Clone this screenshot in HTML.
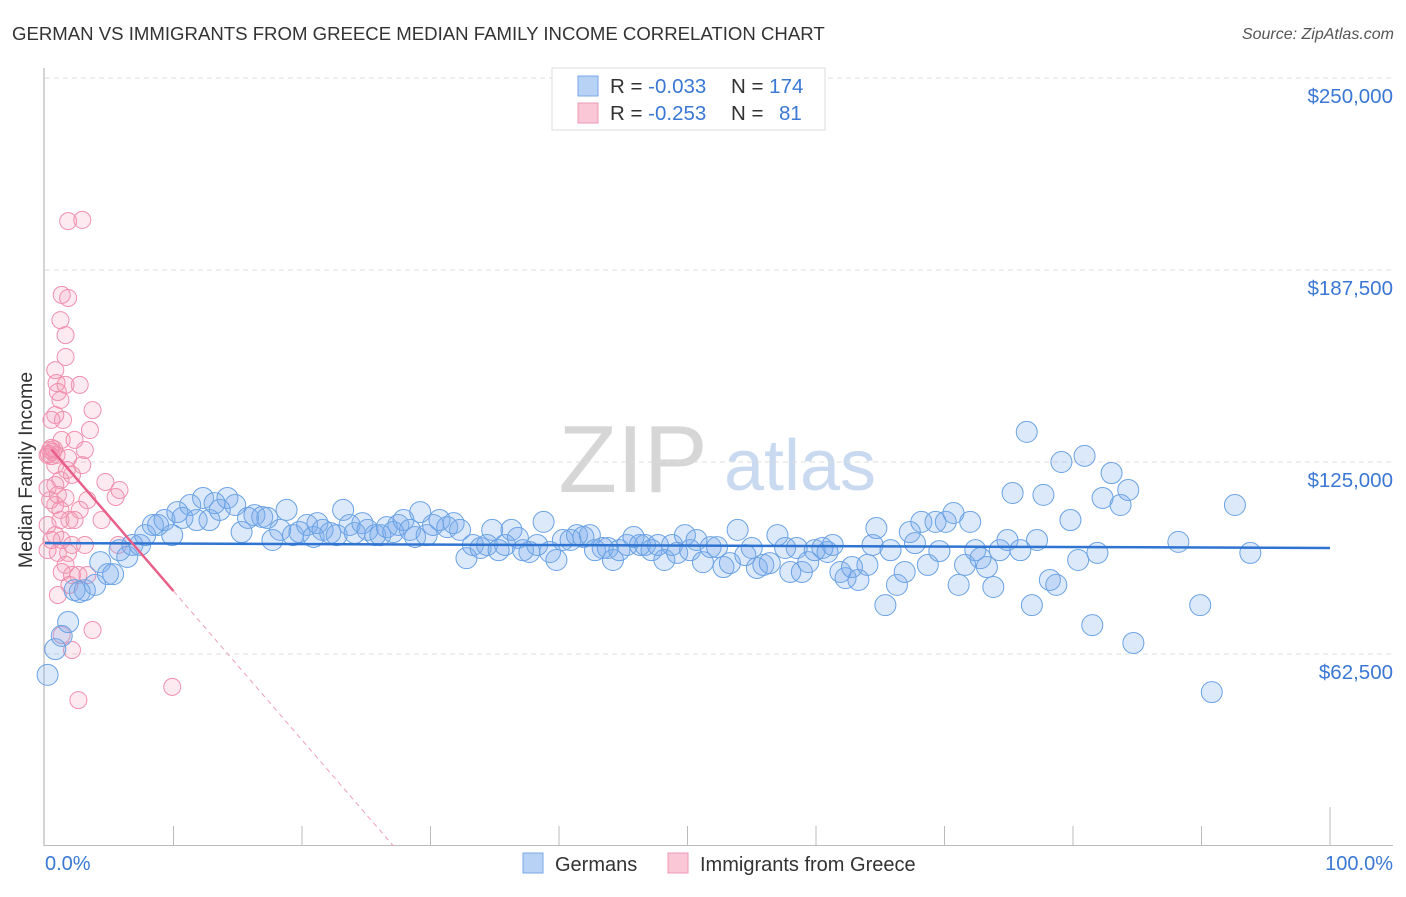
<!DOCTYPE html>
<html><head><meta charset="utf-8"><style>
body{margin:0;background:#fff;width:1406px;height:892px;overflow:hidden;font-family:"Liberation Sans",sans-serif;}
svg text{font-family:"Liberation Sans",sans-serif;}
</style></head><body>
<svg id="chart" width="1406" height="892" xmlns="http://www.w3.org/2000/svg">
<text x="12" y="40" font-size="18.6" fill="#333">GERMAN VS IMMIGRANTS FROM GREECE MEDIAN FAMILY INCOME CORRELATION CHART</text>
<text x="1394" y="39" font-size="16" fill="#555" font-style="italic" text-anchor="end">Source: ZipAtlas.com</text>
<g>
<text x="633" y="492" font-size="96" fill="#d6d6d6" font-family="Liberation Serif" text-anchor="middle">ZIP</text>
<text x="800" y="490" font-size="72" fill="#c9daf0" text-anchor="middle">atlas</text>
</g>
<g id="grid"></g>
<g id="axes"></g>
<g id="pts"></g>
<g id="trend"></g>
<g>
<rect x="552" y="68" width="273" height="62" fill="#fff" stroke="#ddd"/>
<rect x="578" y="76" width="20" height="20" fill="#b7d2f5" stroke="#79a8e6"/>
<rect x="578" y="103" width="20" height="20" fill="#f9c7d6" stroke="#ee9ab4"/>
<text x="610" y="93" font-size="20.5" fill="#333">R = <tspan fill="#3a78d4">-0.033</tspan><tspan x="731">N = </tspan><tspan fill="#3a78d4">174</tspan></text>
<text x="610" y="120" font-size="20.5" fill="#333">R = <tspan fill="#3a78d4"> -0.253</tspan><tspan x="731">N = </tspan><tspan fill="#3a78d4" x="779">81</tspan></text>
</g>
<g>
<rect x="523" y="853" width="20" height="20" fill="#b7d2f5" stroke="#79a8e6"/>
<text x="555" y="871" font-size="20" fill="#333">Germans</text>
<rect x="668" y="853" width="20" height="20" fill="#f9c7d6" stroke="#ee9ab4"/>
<text x="700" y="871" font-size="20" fill="#333">Immigrants from Greece</text>
</g>
<text x="18" y="456" font-size="19.5" fill="#333" transform="rotate(-90 32 456)" text-anchor="middle">Median Family Income</text>
</svg>
<script>
const yTicks=[62500,125000,187500,250000];
const yTickLabels=["$62,500","$125,000","$187,500","$250,000"];
const xTickLabels=["0.0%","100.0%"];
const germansX=[0.2,0.8,1.3,1.8,2.3,3.1,3.9,2.7,4.3,4.9,5.3,5.8,6.4,6.8,7.4,7.8,8.4,8.8,9.3,9.9,10.3,10.7,11.3,11.8,12.3,12.8,13.2,13.6,14.2,14.8,15.3,15.8,16.3,16.9,17.3,17.7,18.3,18.8,19.3,19.8,20.4,20.9,21.2,21.6,22.2,22.7,23.2,23.7,24.1,24.7,25.1,25.7,26.1,26.6,27.1,27.5,27.9,28.4,28.8,29.2,29.7,30.2,30.7,31.3,31.8,32.3,32.8,33.3,33.9,34.4,34.8,35.3,35.8,36.3,36.8,37.2,37.7,38.3,38.8,39.3,39.8,40.3,40.9,41.4,41.9,42.4,42.8,43.4,43.8,44.2,44.7,45.3,45.8,46.3,46.7,47.2,47.7,48.2,48.8,49.2,49.8,50.2,50.7,51.2,51.8,52.3,52.8,53.3,53.9,54.5,55.0,55.4,55.9,56.4,57.0,57.6,58.0,58.5,58.9,59.4,59.9,60.5,60.9,61.3,61.9,62.3,62.8,63.3,64.0,64.4,64.7,65.4,65.8,66.3,66.9,67.3,67.7,68.2,68.7,69.3,69.6,70.1,70.7,71.1,71.6,72.0,72.4,72.8,73.3,73.8,74.3,74.9,75.3,75.9,76.4,76.8,77.2,77.7,78.2,78.7,79.1,79.8,80.4,80.9,81.5,81.9,82.3,83.0,83.7,84.3,84.7,88.2,89.9,90.8,92.6,93.8];
const germansY=[55.7,64.1,68.4,72.9,83.3,83.3,85.0,82.7,92.4,88.5,88.5,96.3,94.1,98.0,98.0,101.2,104.5,104.5,106.1,101.2,108.7,106.8,111.0,106.1,113.3,106.1,111.6,109.4,113.3,111.0,102.2,106.8,107.7,107.1,106.8,99.6,102.9,109.4,101.2,102.2,104.5,100.6,105.1,102.9,101.9,101.2,109.4,104.5,101.9,105.1,102.9,101.2,101.2,103.8,102.2,104.5,106.1,102.9,100.6,108.7,101.2,104.5,106.1,103.8,105.1,102.9,93.7,98.0,97.0,98.0,102.9,96.3,98.0,102.9,100.3,96.3,95.7,98.0,105.5,95.7,93.1,99.6,99.6,101.2,100.6,101.2,96.3,97.0,97.0,93.1,96.3,98.0,100.6,98.0,98.0,96.3,98.0,93.1,98.0,95.4,101.2,96.3,99.6,92.4,97.3,97.3,90.8,92.1,102.9,94.7,97.0,90.5,91.5,92.1,101.2,97.0,89.2,97.0,89.2,92.4,96.3,97.0,95.7,98.0,89.2,87.2,90.8,86.6,91.5,98.0,103.5,78.4,96.3,85.0,89.2,102.2,98.6,105.5,91.5,105.5,96.0,105.5,108.4,85.0,91.5,105.5,96.3,93.7,90.8,84.3,96.3,99.6,114.9,96.3,134.8,78.4,99.6,114.3,86.6,85.0,125.0,106.1,93.1,127.0,71.9,95.4,113.3,121.4,111.0,115.9,66.1,99.0,78.4,50.1,111.0,95.4];
const greeceX=[1.8,2.9,1.3,1.8,1.2,1.6,1.6,0.8,0.9,1.6,1.0,2.7,3.7,1.2,0.8,1.4,0.5,3.5,1.3,2.3,3.1,0.5,0.9,0.2,1.8,2.9,0.8,1.2,2.1,0.2,1.0,1.6,3.3,4.7,5.8,5.5,0.8,1.2,1.9,0.2,2.7,4.4,0.8,1.3,2.1,0.2,1.0,1.8,3.1,5.7,1.6,1.3,2.1,2.6,1.9,1.0,3.7,2.1,1.3,9.9,2.6,0.5,1.2,0.4,0.8,1.7,2.3,3.3,0.4,0.6,0.3,0.7,0.5];
const greeceY=[203.4,203.8,179.4,178.4,171.2,166.3,159.2,154.9,150.7,150.1,147.8,150.1,141.9,145.2,140.3,138.7,138.7,135.4,132.2,132.2,128.9,129.6,127.3,127.3,126.3,124.0,124.0,119.1,120.8,116.5,114.3,113.3,112.6,118.5,115.9,113.6,111.0,109.4,106.1,104.5,109.4,106.1,101.2,99.6,98.0,96.3,95.4,95.4,98.0,98.0,91.5,89.2,88.2,88.2,85.0,81.7,70.3,63.8,68.7,51.8,47.5,99.6,106.1,112.6,117.5,122.4,106.1,88.2,128.9,128.3,127.6,129.2,126.9];
const germansTrend=[98.6,97.0];
const greeceTrend=[131.5,-4.85];
const NS="http://www.w3.org/2000/svg";
const X=p=>45+p*12.85;
const Y=v=>846-v/62500*192;
function mk(tag,at,parent){const e=document.createElementNS(NS,tag);for(const k in at)e.setAttribute(k,at[k]);parent.appendChild(e);return e;}
const grid=document.getElementById('grid'),axes=document.getElementById('axes'),pts=document.getElementById('pts'),trend=document.getElementById('trend');
yTicks.forEach((t,i)=>{
 const l=mk('line',{x1:45,x2:1393,y1:Y(t),y2:Y(t),stroke:'#ddd','stroke-dasharray':'5,4'},grid);
 
 
 const tx=mk('text',{x:1393,y:Y(t)+25,'font-size':20.5,fill:'#3a78d4','text-anchor':'end'},axes);
 tx.textContent=yTickLabels[i];
 
 
});
const ya=mk('line',{x1:44,x2:44,y1:68,y2:846,stroke:'#aaa'},axes);


const xa=mk('line',{x1:44,x2:1393,y1:845.5,y2:845.5,stroke:'#bbb'},axes);


for(let i=1;i<=10;i++){
 const tk=mk('line',{x1:X(i*10),x2:X(i*10),y1:i==10?807:826,y2:846,stroke:'#bbb'},axes);
 
 
}
const xl0=mk('text',{x:45,y:870,'font-size':20,fill:'#3a78d4'},axes);xl0.textContent=xTickLabels[0];


const xl1=mk('text',{x:1393,y:870,'font-size':20,fill:'#3a78d4','text-anchor':'end'},axes);xl1.textContent=xTickLabels[1];


greeceX.forEach((p,i)=>{
 const c=mk('circle',{cx:X(p),cy:Y(greeceY[i]*1000),r:8.5,fill:'rgba(245,150,180,0.2)',stroke:'#f090ae','stroke-width':1},pts);
 
 
});
germansX.forEach((p,i)=>{
 const c=mk('circle',{cx:X(p),cy:Y(germansY[i]*1000),r:10.5,fill:'rgba(120,170,235,0.26)',stroke:'#6aa2e4','stroke-width':1},pts);
 
 
});
const bl=mk('line',{x1:X(0),x2:X(100),y1:Y(germansTrend[0]*1000),y2:Y(germansTrend[1]*1000),stroke:'#2f74d0','stroke-width':2.5},trend);


const gy=p=>Y((greeceTrend[0]+greeceTrend[1]*p)*1000);
const pl=mk('line',{x1:X(0.5),x2:X(10),y1:gy(0.5),y2:gy(10),stroke:'#e8608a','stroke-width':2.5},trend);


const pz=-greeceTrend[0]/greeceTrend[1];
const pd=mk('line',{x1:X(10),x2:X(pz),y1:gy(10),y2:gy(pz),stroke:'#eea0b8','stroke-width':1,'stroke-dasharray':'5,4'},trend);


</script>
</body></html>
